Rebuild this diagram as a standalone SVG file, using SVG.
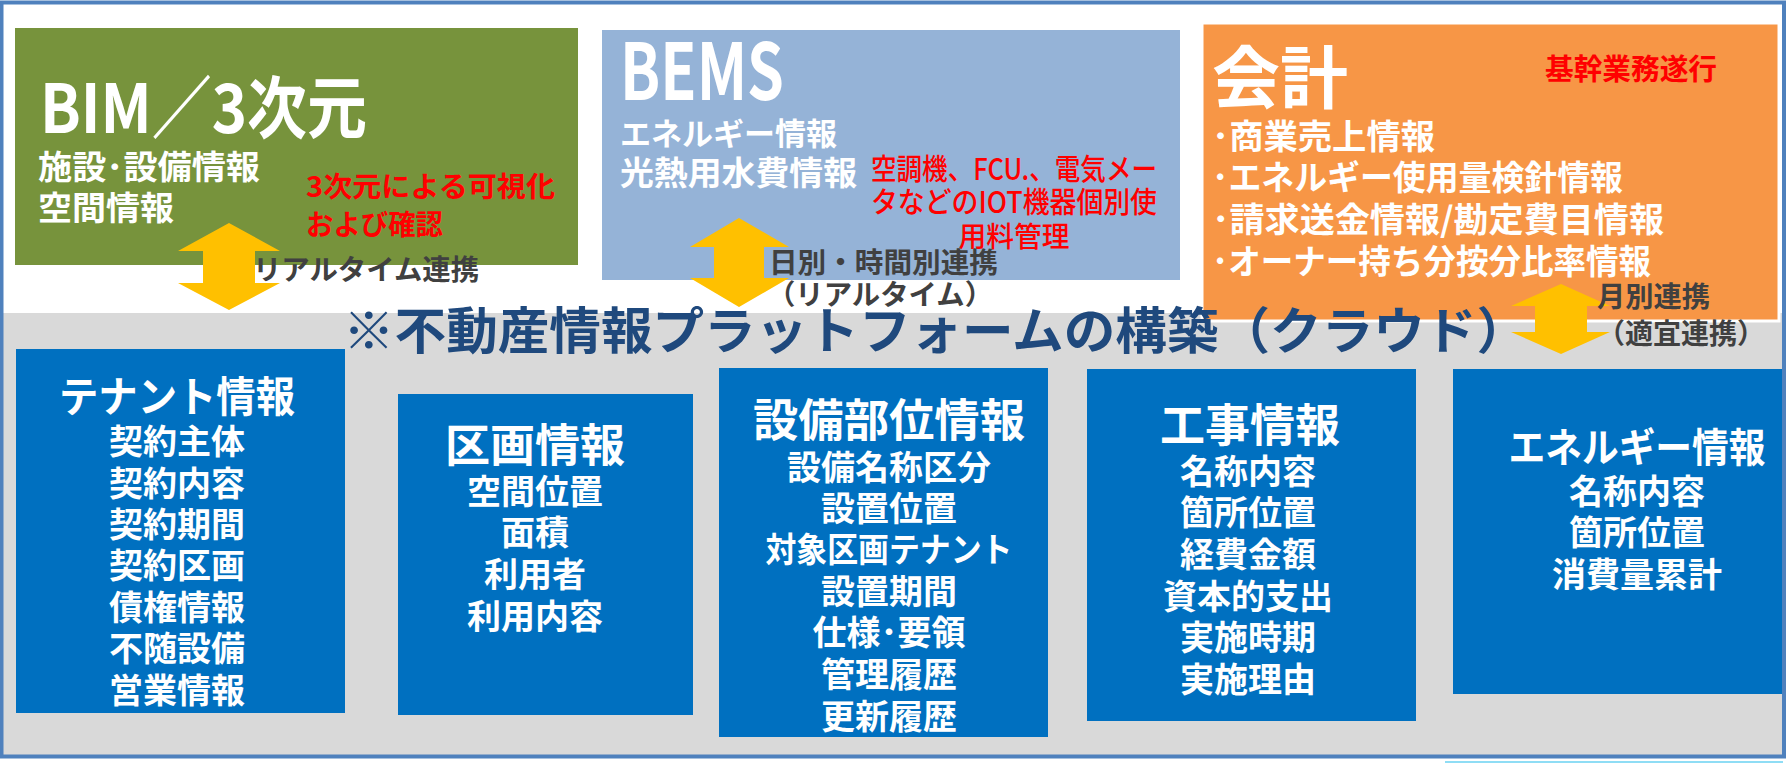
<svg xmlns="http://www.w3.org/2000/svg" width="1786" height="763" viewBox="0 0 1786 763">
<style>
text{font-family:"Noto Sans CJK JP","Noto Sans",sans-serif;font-weight:bold}
.w{fill:#FFFFFF}
.r{fill:#FF0000}
.rn{fill:#FF0000;font-weight:500}
.d{fill:#404040}
.t{fill:#1F497D}
.c{text-anchor:middle}
.blue{fill:#0070C0}
.arrow{fill:#FFC000}
</style>
<rect x="0" y="0" width="1786" height="763" fill="#FFFFFF"/>
<rect id="band" x="3" y="313" width="1780" height="442" fill="#D9D9D9"/>
<rect x="1.5" y="2.5" width="1782.5" height="754" fill="none" stroke="#4F81BD" stroke-width="4"/>
<line x1="1445" y1="762" x2="1783" y2="762" stroke="#8FDDF5" stroke-width="2"/>

<g id="bim">
<rect x="15" y="28" width="563" height="237" fill="#77933C"/>
<text class="w" x="40" y="133" font-size="68" textLength="327" lengthAdjust="spacingAndGlyphs">BIM／3次元</text>
<text class="w" x="38" y="179" font-size="33" textLength="222" lengthAdjust="spacingAndGlyphs">施設･設備情報</text>
<text class="w" x="38" y="220" font-size="33" textLength="136" lengthAdjust="spacingAndGlyphs">空間情報</text>
<text class="r" x="306" y="197" font-size="28" textLength="249" lengthAdjust="spacingAndGlyphs">3次元による可視化</text>
<text class="r" x="306" y="235" font-size="28" textLength="137" lengthAdjust="spacingAndGlyphs">および確認</text>
</g>

<g id="bems">
<rect x="602" y="30" width="578" height="250" fill="#95B3D7"/>
<text class="w" x="620" y="100" font-size="78" textLength="164" lengthAdjust="spacingAndGlyphs">BEMS</text>
<text class="w" x="620" y="145" font-size="31" textLength="217" lengthAdjust="spacingAndGlyphs">エネルギー情報</text>
<text class="w" x="620" y="185" font-size="33" textLength="237" lengthAdjust="spacingAndGlyphs">光熱用水費情報</text>
<text class="rn c" x="1014" y="180" font-size="29" textLength="286" lengthAdjust="spacingAndGlyphs">空調機、FCU.、電気メー</text>
<text class="rn c" x="1014" y="213" font-size="29" textLength="286" lengthAdjust="spacingAndGlyphs">タなどのIOT機器個別使</text>
<text class="rn c" x="1014" y="247" font-size="28" textLength="111" lengthAdjust="spacingAndGlyphs">用料管理</text>
</g>

<g id="kaikei">
<rect x="1202" y="23" width="577" height="298" fill="#F79646" stroke="#FFFFFF" stroke-width="3"/>
<text class="w" x="1212" y="103" font-size="68" textLength="136" lengthAdjust="spacingAndGlyphs">会計</text>
<text class="r" x="1545" y="80" font-size="29" textLength="172" lengthAdjust="spacingAndGlyphs">基幹業務遂行</text>
<text class="w" x="1212" y="149" font-size="34" textLength="223" lengthAdjust="spacingAndGlyphs">･商業売上情報</text>
<text class="w" x="1212" y="190" font-size="34" textLength="411" lengthAdjust="spacingAndGlyphs">･エネルギー使用量検針情報</text>
<text class="w" x="1212" y="232" font-size="34" textLength="452" lengthAdjust="spacingAndGlyphs">･請求送金情報/勘定費目情報</text>
<text class="w" x="1212" y="274" font-size="34" textLength="439" lengthAdjust="spacingAndGlyphs">･オーナー持ち分按分比率情報</text>
</g>

<g id="title">
<text class="t" x="343" y="349" font-size="50" textLength="1185" lengthAdjust="spacingAndGlyphs">※不動産情報プラットフォームの構築（クラウド）</text>
</g>

<g id="connectors">
<polygon class="arrow" points="229,223 280,251 255,251 255,283 280,283 229,310 178,283 203,283 203,251 178,251"/>
<polygon class="arrow" points="739,218 789,247 764,247 764,278 789,278 739,307 690,278 714,278 714,247 690,247"/>
<polygon class="arrow" points="1561,284 1610,306 1587,306 1587,332 1610,332 1561,354 1511,332 1535,332 1535,306 1511,306"/>
<text class="d" x="253" y="280" font-size="28" textLength="226" lengthAdjust="spacingAndGlyphs">リアルタイム連携</text>
<text class="d" x="769" y="273" font-size="28" textLength="229" lengthAdjust="spacingAndGlyphs">日別・時間別連携</text>
<text class="d" x="767" y="305" font-size="28" textLength="226" lengthAdjust="spacingAndGlyphs">（リアルタイム）</text>
<text class="d" x="1597" y="307" font-size="28" textLength="113" lengthAdjust="spacingAndGlyphs">月別連携</text>
<text class="d" x="1597" y="344" font-size="28" textLength="168" lengthAdjust="spacingAndGlyphs">（適宜連携）</text>
</g>

<g id="tenant">
<rect class="blue" x="16" y="349" width="329" height="364"/>
<text class="w c" x="177" y="412" font-size="42" textLength="236" lengthAdjust="spacingAndGlyphs">テナント情報</text>
<text class="w c" x="177" y="454" font-size="34">契約主体</text>
<text class="w c" x="177" y="496" font-size="34">契約内容</text>
<text class="w c" x="177" y="537" font-size="34">契約期間</text>
<text class="w c" x="177" y="578" font-size="34">契約区画</text>
<text class="w c" x="177" y="620" font-size="34">債権情報</text>
<text class="w c" x="177" y="661" font-size="34">不随設備</text>
<text class="w c" x="177" y="703" font-size="34">営業情報</text>
</g>

<g id="kukaku">
<rect class="blue" x="398" y="394" width="295" height="321"/>
<text class="w c" x="535" y="462" font-size="45">区画情報</text>
<text class="w c" x="535" y="504" font-size="34">空間位置</text>
<text class="w c" x="535" y="545" font-size="34">面積</text>
<text class="w c" x="535" y="587" font-size="34">利用者</text>
<text class="w c" x="535" y="629" font-size="34">利用内容</text>
</g>

<g id="setsubi">
<rect class="blue" x="719" y="368" width="329" height="369"/>
<text class="w c" x="889" y="437" font-size="45" textLength="272" lengthAdjust="spacingAndGlyphs">設備部位情報</text>
<text class="w c" x="889" y="480" font-size="34">設備名称区分</text>
<text class="w c" x="889" y="521" font-size="34">設置位置</text>
<text class="w c" x="889" y="562" font-size="34" textLength="247" lengthAdjust="spacingAndGlyphs">対象区画テナント</text>
<text class="w c" x="889" y="604" font-size="34">設置期間</text>
<text class="w c" x="889" y="645" font-size="34">仕様･要領</text>
<text class="w c" x="889" y="687" font-size="34">管理履歴</text>
<text class="w c" x="889" y="729" font-size="34">更新履歴</text>
</g>

<g id="koji">
<rect class="blue" x="1087" y="369" width="329" height="352"/>
<text class="w c" x="1250" y="442" font-size="45">工事情報</text>
<text class="w c" x="1248" y="484" font-size="34">名称内容</text>
<text class="w c" x="1248" y="525" font-size="34">箇所位置</text>
<text class="w c" x="1248" y="567" font-size="34">経費金額</text>
<text class="w c" x="1248" y="609" font-size="34">資本的支出</text>
<text class="w c" x="1248" y="650" font-size="34">実施時期</text>
<text class="w c" x="1248" y="692" font-size="34">実施理由</text>
</g>

<g id="energy">
<rect class="blue" x="1453" y="369" width="329" height="325"/>
<text class="w c" x="1637" y="462" font-size="40" textLength="257" lengthAdjust="spacingAndGlyphs">エネルギー情報</text>
<text class="w c" x="1637" y="504" font-size="34">名称内容</text>
<text class="w c" x="1637" y="545" font-size="34">箇所位置</text>
<text class="w c" x="1637" y="587" font-size="34">消費量累計</text>
</g>
</svg>
